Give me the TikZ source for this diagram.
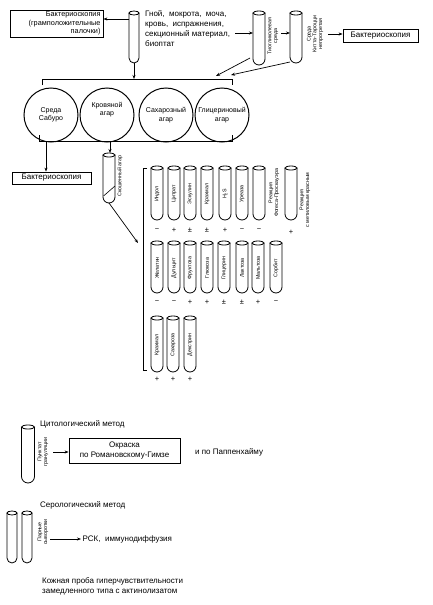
\documentclass[tikz,border=0pt]{standalone}
\usepackage{fontspec}
\setmainfont{Liberation Sans}
\usetikzlibrary{arrows.meta}
\tikzset{
  ln/.style={line width=0.8pt},
  arr/.style={-{Stealth[length=4pt,width=3pt]}, line width=0.7pt},
  box/.style={draw, line width=0.8pt, inner sep=0.5pt},
  txt/.style={font=\fontsize{8}{10}\selectfont},
  circ/.style={draw, circle, minimum size=54pt, line width=1pt, inner sep=0pt,
    font=\fontsize{7}{8.5}\selectfont, align=center},
  tlab/.style={rotate=90, font=\fontsize{5.3}{5.8}\selectfont, inner sep=0pt, align=center},
  sgn/.style={font=\fontsize{7.5}{7.5}\selectfont, inner sep=0pt},
  pics/tube/.style n args={2}{code={
    \pgfmathsetmacro\tubehw{#1/2}
    \draw[line width=0.8pt, rounded corners=\tubehw pt] (-\tubehw,0) -- (-\tubehw,#2) -- (\tubehw,#2) -- (\tubehw,0);
    \draw[line width=0.8pt] (0,0) ellipse [x radius=\tubehw, y radius=2];
    \coordinate (-top) at (0,0);
    \coordinate (-bot) at (0,#2);
    \coordinate (-mid) at (0,#2/2);
    \coordinate (-west) at (-\tubehw,0);
    \coordinate (-east) at (\tubehw,0);
  }},
}
\begin{document}
\begin{tikzpicture}[x=1pt,y=-1pt]
\useasboundingbox (0,0) rectangle (433,605);

% ---------- top row ----------
\node[box, minimum width=93pt, minimum height=27pt, text width=88pt, align=right,
  font=\fontsize{7.3}{8.3}\selectfont] (b1) at (56.5,23.5) {Бактериоскопия\\(грамположительные\\палочки)};
\pic (t1) at (134,13) {tube={10}{50}};
\node[txt, anchor=north west, align=left, inner sep=0pt] (d) at (145,10)
  {Гной,\ \ мокрота,\ \ моча,\\кровь,\ \ испражнения,\\секционный материал,\\биоптат};
\pic (t2) at (259,13) {tube={12}{52}};
\node[tlab] (t2l) at (273,36) {Тиогликолевая\\среда};
\pic (t3) at (296,13) {tube={12}{50}};
\node[tlab] (t3l) at (315,34) {Среда\\Китта-Тароцци\\непрогретая};
\node[box, txt, minimum width=75pt, minimum height=13pt] (b2) at (380.5,35.5) {Бактериоскопия};

\coordinate (a1) at (129,19);
\draw[arr] (a1) -- (a1 -| b1.east);
\coordinate (a2) at (235,33);
\draw[arr] (a2) -- (a2 -| t2-west);
\coordinate (a3) at (281,33);
\draw[arr] (a3) -- (a3 -| t3-west);
\coordinate (a4) at (328,34);
\draw[arr] (a4) -- (a4 -| b2.west);

% ---------- bars and plates ----------
\coordinate (tbl) at (42,79);
\coordinate (tbr) at (232,79);
\draw[ln] (tbl) ++(0,6) -- (tbl) -- (tbr) -- ++(0,6);
\draw[arr] (t1-bot) -- (t1-bot |- tbl);
\coordinate (s2) at (250,58); \coordinate (e2) at (216,76);
\draw[arr] (s2) -- (e2);
\coordinate (s3) at (290,62); \coordinate (e3) at (231,75);
\draw[arr] (s3) -- (e3);

\node[circ] (c1) at (51,115) {Среда\\Сабуро};
\node[circ] (c2) at (107,115) {Кровяной\\агар\\[4pt]};
\node[circ] (c3) at (166,115) {Сахарозный\\агар};
\node[circ] (c4) at (222,115) {Глицериновый\\агар};

\coordinate (bbl) at (39,141);
\coordinate (bbr) at (232,141);
\draw[ln] (bbl) ++(0,-6) -- (bbl) -- (bbr) -- ++(0,-6);

\node[box, txt, minimum width=79pt, minimum height=12pt] (b3) at (51.5,178) {Бактериоскопия};
\coordinate (bb1) at (46,141);
\draw[arr] (bb1) -- (bb1 |- b3.north);

\pic (st) at (109,155) {tube={12}{48}};
\coordinate (sl1) at (103.5,196); \coordinate (sl2) at (115,186);
\draw[line width=0.6pt] (sl1) -- (sl2);
\node[tlab] (stl) at (120,176) {Скошенный агар};
\coordinate (bb2) at (110,141);
\draw[arr, shorten >=2pt] (bb2) -- (bb2 |- st-top);
\coordinate (e4) at (138,243);
\draw[arr] (st-bot) -- (e4);

% ---------- bracket ----------
\coordinate (brt) at (143,168);
\coordinate (brb) at (143,370);
\draw[ln] (brt) ++(4,0) -- (brt) -- (brb) -- ++(4,0);

% ---------- row 1 ----------
\foreach \x/\t/\s [count=\i] in {157/Индол/−,174/Цитрат/+,190/Эскулин/±,207/Крахмал/±,225/{H\textsubscript{2}S}/+,242/Уреаза/−}{
  \pic (ra\i) at (\x,168) {tube={12}{52}};
  \node[tlab] (la\i) at (ra\i-mid) {\t};
  \node[sgn] (sa\i) at (\x,230) {\s};
}
\pic (ra7) at (259,168) {tube={12}{52}};
\node[sgn] (sa7) at (259,230) {−};
\node[tlab] (la7) at (274,193) {Реакция\\Фогеса-Проскауэра};
\pic (ra8) at (291,168) {tube={12}{52}};
\node[sgn] (sa8) at (291,232) {+};
\node[tlab] (la8) at (305,200) {Реакция\\с метиловым красным};

% ---------- row 2 ----------
\foreach \x/\t/\s [count=\i] in {157/Желатин/−,174/Дульцит/−,190/Фруктоза/+,207/Глюкоза/+,224/Глицерин/±,242/Лактоза/±,258/Мальтоза/+,276/Сорбит/−}{
  \pic (rb\i) at (\x,243) {tube={12}{50}};
  \node[tlab] (lb\i) at (rb\i-mid) {\t};
  \node[sgn] (sb\i) at (\x,302) {\s};
}

% ---------- row 3 ----------
\foreach \x/\t/\s [count=\i] in {157/Крахмал/+,173/Сахароза/+,190/Декстрин/+}{
  \pic (rc\i) at (\x,318) {tube={12}{54}};
  \node[tlab] (lc\i) at (rc\i-mid) {\t};
  \node[sgn] (sc\i) at (\x,379) {\s};
}

% ---------- cytological ----------
\node[txt, anchor=west, inner sep=0pt] (cyt) at (40,424) {Цитологический метод};
\pic (p) at (28,427) {tube={13}{56}};
\node[tlab] (pl) at (43,452) {Пунктат\\грануляции};
\node[box, txt, minimum width=111pt, minimum height=25pt, align=center] (b4) at (124.5,450.5)
  {Окраска\\по Романовскому-Гимзе};
\coordinate (a5) at (53,452);
\draw[arr] (a5) -- (a5 -| b4.west);
\node[txt, anchor=west, inner sep=0pt] (pap) at (195,452) {и по Паппенхайму};

% ---------- serological ----------
\node[txt, anchor=west, inner sep=0pt] (ser) at (40,505) {Серологический метод};
\pic (s1) at (12,513) {tube={10}{50}};
\pic (s2) at (27,513) {tube={10}{50}};
\node[tlab] (sl) at (43,532) {Парные\\сыворотки};
\node[txt, anchor=west, inner sep=1.5pt] (rsk) at (81,539) {РСК,\ \ иммунодиффузия};
\coordinate (a6) at (50,539);
\draw[arr] (a6) -- (rsk.west);

\node[txt, anchor=west, align=left, inner sep=0pt] (skin) at (42,586)
  {Кожная проба гиперчувствительности\\замедленного типа с актинолизатом};
\end{tikzpicture}
\end{document}
